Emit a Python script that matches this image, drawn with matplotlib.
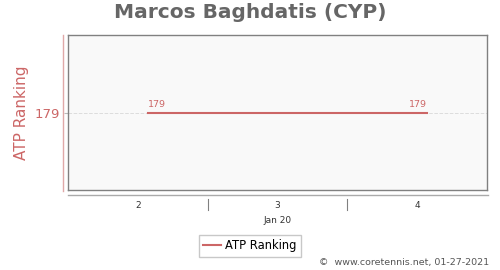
import matplotlib.pyplot as plt
from matplotlib.lines import Line2D

# Data: ATP ranking in early January 2020 (day of month, fractional)
days = [2.57, 3.57, 4.57]
ranking = [179, 179, 179]
day_ticks = [2, 3, 4]
month_label = 'Jan 20'

red = '#cc6666'
grey = '#808080'

fig = plt.figure(figsize=(5, 2.7), dpi=100)
ax = fig.add_axes([68 / 500, 1 - 190 / 270, 419 / 500, 155 / 270])
ax.set_facecolor('#f9f9f9')

ax.plot(days, ranking, color=red, lw=1.5, label='ATP Ranking')
ax.text(days[0], ranking[0] + 0.05, str(ranking[0]), color=red, fontsize=6.8,
        ha='left', va='bottom')
ax.text(days[-1], ranking[-1] + 0.05, str(ranking[-1]), color=red, fontsize=6.8,
        ha='right', va='bottom')

ax.set_xlim(2, 5)
ax.set_ylim(178, 180)
ax.set_yticks([179])
ax.set_yticklabels(['179'], color=red, fontsize=9.5)
ax.tick_params(axis='y', length=3, color='#bbbbbb', pad=3)
ax.yaxis.grid(True, color='#dddddd', lw=0.7, ls='--')
ax.set_xticks([])
for s in ax.spines.values():
    s.set_color(grey)
    s.set_linewidth(1)

# day labels below the axis
for d in day_ticks:
    ax.text(d + 0.5, -0.097, str(d), transform=ax.get_xaxis_transform(),
            ha='center', va='center', fontsize=6.5, color='#333333')
for d in day_ticks[1:]:
    ax.add_line(Line2D([d, d], [-0.058, -0.13], transform=ax.get_xaxis_transform(),
                       color=grey, lw=0.8, clip_on=False))
ax.text(3.5, -0.194, month_label, transform=ax.get_xaxis_transform(),
        ha='center', va='center', fontsize=6.5, color='#333333')

# detached axis lines
fig.add_artist(Line2D([63 / 500, 63 / 500], [1 - 191 / 270, 1 - 35 / 270],
                      color='#e0a8a8', lw=1))
fig.add_artist(Line2D([68 / 500, 488 / 500], [1 - 195 / 270, 1 - 195 / 270],
                      color='#aaaaaa', lw=1))

ax.set_ylabel('ATP Ranking', color=red, fontsize=11, labelpad=4)
fig.suptitle('Marcos Baghdatis (CYP)', fontsize=14.5, fontweight='bold',
             color='#666666', y=0.99)

fig.legend(loc='center', bbox_to_anchor=(250 / 500, 1 - 246 / 270), fontsize=8.3,
           frameon=True, fancybox=False, edgecolor='#bbbbbb', handlelength=1.5,
           handletextpad=0.4, borderpad=0.35, borderaxespad=0)

fig.text(489 / 500, 1 - 263 / 270, '\u00a9  www.coretennis.net, 01-27-2021',
         ha='right', va='center', fontsize=6.8, color='#555555')

fig.savefig('out.png', dpi=100)
